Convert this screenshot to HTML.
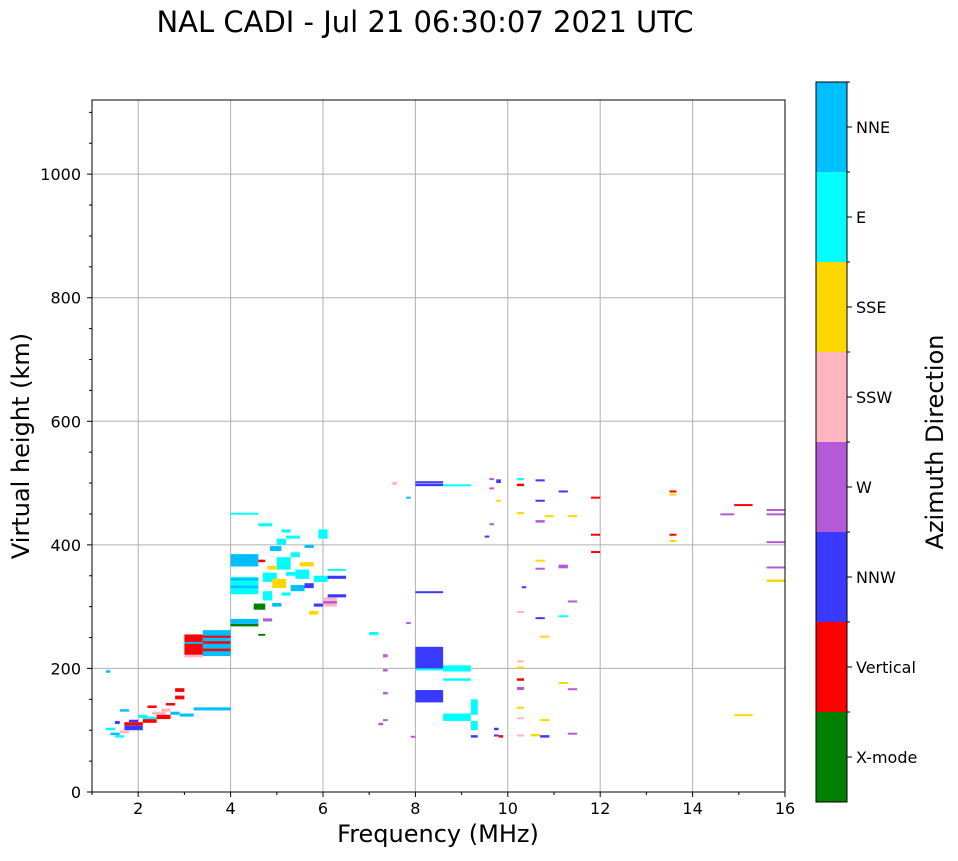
<!DOCTYPE html>
<html><head><meta charset="utf-8"><style>
body{margin:0;background:#fff;font-family:"DejaVu Sans",sans-serif}
svg text{font-family:"DejaVu Sans",sans-serif}
</style></head><body>
<svg id="s" width="958" height="857" xmlns="http://www.w3.org/2000/svg">
<text x="425" y="32" font-size="29" text-anchor="middle">NAL CADI - Jul 21 06:30:07 2021 UTC</text>
<g id="grid"></g>
<g id="marks"></g>
<rect x="92" y="100" width="693" height="692" fill="none" stroke="#000" stroke-width="1"/>
<g id="axes"></g>
<text x="438" y="842" font-size="24" text-anchor="middle">Frequency (MHz)</text>
<text transform="translate(29,446) rotate(-90)" font-size="24" text-anchor="middle">Virtual height (km)</text>
<g id="cbar"></g>
<text transform="translate(943,442) rotate(-90)" font-size="24" text-anchor="middle">Azimuth Direction</text>
</svg>
<script>
const dirNames=["X-mode","Vertical","NNW","W","SSW","SSE","E","NNE"];
const dirColors=["#008000","#ff0000","#3a3aff","#b55ad6","#ffb6c1","#ffd700","#00ffff","#00bfff"];
const xTicks=[2,4,6,8,10,12,14,16];
const yTicks=[0,200,400,600,800,1000];
const marks=[
[1.3,1.4,193,197,7],[1.3,1.5,100,104,6],[1.4,1.6,92,96,7],[1.5,1.7,88,92,6],[1.6,1.8,130,134,7],[1.5,1.6,110,115,2],
[1.7,2.1,100,108,2],[1.7,2.1,108,113,1],[1.8,2.0,113,117,2],[2.1,2.4,112,118,1],[2.1,2.4,118,122,6],[2.2,2.4,136,140,1],
[2.4,2.7,118,125,1],[2.5,2.7,130,135,4],[2.6,2.8,140,144,1],[2.7,2.9,125,130,7],[2.8,3.0,150,156,1],[2.8,3.0,162,168,1],
[2.9,3.2,122,127,7],[2.3,2.6,125,130,4],[2.0,2.2,120,125,6],[1.6,1.8,95,100,4],
[3.0,3.4,222,255,1],[3.4,4.0,220,262,7],[3.4,4.0,228,232,1],[3.4,4.0,240,244,1],[3.4,4.0,250,253,1],[3.0,3.4,240,243,7],[3.0,3.4,218,222,4],
[3.2,4.0,132,137,7],
[4.0,4.6,268,272,0],[4.0,4.6,272,280,7],[4.0,4.6,320,348,6],[4.0,4.6,330,334,7],[4.0,4.6,342,346,7],[4.0,4.6,365,385,7],[4.0,4.6,450,452,6],
[4.5,4.75,295,305,0],[4.6,4.75,253,256,0],[4.6,4.75,372,376,1],
[4.7,4.9,310,325,6],[4.7,5.0,340,355,6],[4.9,5.2,330,345,5],[5.0,5.3,360,380,6],[5.0,5.2,400,410,6],[5.2,5.5,410,415,6],
[5.3,5.6,325,335,7],[5.4,5.7,345,360,6],[5.5,5.8,365,372,5],[5.6,5.8,330,338,2],[5.7,5.9,287,293,5],[5.8,6.1,340,350,6],
[5.9,6.1,410,425,6],[6.0,6.3,300,315,4],[6.0,6.3,305,309,3],[6.1,6.5,345,350,2],[6.1,6.5,315,320,2],[6.1,6.5,358,361,6],
[4.6,4.9,430,435,6],[4.7,4.9,276,281,3],[4.85,5.1,390,398,7],[5.1,5.3,420,425,6],
[4.8,5.0,360,366,5],[5.2,5.4,350,356,6],[5.3,5.5,380,388,6],[5.6,5.8,395,400,7],[4.9,5.1,300,306,7],[5.1,5.3,318,323,6],[5.8,6.0,300,305,2],
[7.0,7.2,254,259,6],[7.3,7.4,218,223,3],[7.3,7.4,195,199,3],[7.3,7.4,158,162,3],[7.3,7.4,115,118,3],[7.2,7.3,108,112,3],[7.5,7.6,497,502,4],
[7.8,7.9,475,478,7],[7.9,8.0,88,91,3],[7.8,7.9,272,275,3],[8.0,8.6,495,499,2],[8.0,8.6,500,503,2],[8.6,9.2,495,498,6],
[8.0,8.6,322,325,2],[8.0,8.6,200,235,2],[8.0,8.6,145,165,2],[8.0,8.6,197,200,6],[8.6,9.2,195,205,6],[8.6,9.2,180,184,6],
[8.6,9.2,115,127,6],[9.2,9.35,100,115,6],[9.2,9.35,125,150,6],[9.2,9.35,88,92,2],[9.5,9.6,412,415,2],[9.6,9.7,505,508,3],
[9.6,9.7,490,493,3],[9.6,9.7,432,435,3],[9.75,9.85,500,506,2],[9.75,9.85,470,473,5],[9.7,9.8,100,104,2],[9.7,9.8,90,93,2],[9.8,9.9,88,92,1],
[10.2,10.35,505,508,6],[10.2,10.35,495,499,1],[10.2,10.35,450,453,5],[10.2,10.35,290,293,4],[10.2,10.35,210,213,4],[10.2,10.35,200,203,5],
[10.2,10.35,180,184,1],[10.2,10.35,165,170,3],[10.2,10.35,135,138,5],[10.2,10.35,118,121,4],[10.2,10.35,90,93,4],[10.3,10.4,330,333,2],
[10.5,10.7,90,94,5],[10.6,10.8,503,506,2],[10.6,10.8,470,473,2],[10.6,10.8,436,440,3],[10.6,10.8,373,376,5],[10.6,10.8,360,363,3],
[10.6,10.8,280,283,2],[10.7,10.9,250,253,5],[10.7,10.9,115,118,5],[10.7,10.9,88,92,2],[10.8,11.0,445,448,5],[11.1,11.3,485,488,2],
[11.1,11.3,362,368,3],[11.1,11.3,283,286,6],[11.1,11.3,175,178,5],[11.3,11.5,445,448,5],[11.3,11.5,308,310,3],[11.3,11.5,165,168,3],
[11.3,11.5,93,96,3],[11.8,12.0,475,478,1],[11.8,12.0,415,418,1],[11.8,12.0,387,390,1],[13.5,13.65,485,488,1],[13.5,13.65,480,483,5],
[13.5,13.65,415,418,1],[13.5,13.65,405,408,5],[14.6,14.9,448,451,3],[14.9,15.3,463,466,1],[14.9,15.3,123,126,5],[15.6,16,455,458,3],
[15.6,16,448,451,3],[15.6,16,403,406,3],[15.6,16,362,365,3],[15.6,16,340,344,5]
];
const NS="http://www.w3.org/2000/svg";
const X0=92,X1=785,Y0=792,Y1=100,F0=1,F1=16,H0=0,H1=1120;
const xs=f=>X0+(f-F0)/(F1-F0)*(X1-X0);
const ys=h=>Y0-(h-H0)/(H1-H0)*(Y0-Y1);
function el(t,a,p){const e=document.createElementNS(NS,t);for(const k in a)e.setAttribute(k,a[k]);document.getElementById(p).appendChild(e);return e;}
xTicks.forEach(v=>{const x=xs(v);
 const g=el('line',{x1:x,x2:x,y1:Y1,y2:Y0,stroke:'#b0b0b0','stroke-width':1},'grid');
 
 
 const t=el('line',{x1:x,x2:x,y1:Y0,y2:Y0+5,stroke:'#000'},'axes');
 
 
 const l=el('text',{x:x,y:Y0+22,'font-size':16,'text-anchor':'middle'},'axes');l.textContent=v;
 
 
});
for(let v=1;v<16;v+=2){const x=xs(v);const m=el('line',{x1:x,x2:x,y1:Y0,y2:Y0+3,stroke:'#000'},'axes');
 
 }
yTicks.forEach(v=>{const y=ys(v);
 const g=el('line',{x1:X0,x2:X1,y1:y,y2:y,stroke:'#b0b0b0','stroke-width':1},'grid');
 
 
 const t=el('line',{x1:X0-5,x2:X0,y1:y,y2:y,stroke:'#000'},'axes');
 
 
 const l=el('text',{x:X0-11,y:y+6,'font-size':16,'text-anchor':'end'},'axes');l.textContent=v;
 
 
});
for(let v=50;v<1120;v+=50){if(v%200==0)continue;const y=ys(v);const m=el('line',{x1:X0-3,x2:X0,y1:y,y2:y,stroke:'#000'},'axes');
 
 }
marks.forEach(m=>{const r=el('rect',{x:xs(m[0]),y:ys(m[3]),width:xs(m[1])-xs(m[0]),height:Math.max(2,ys(m[2])-ys(m[3])),fill:dirColors[m[4]]},'marks');
 
 });
const CB0=82,CBH=720/8;
dirNames.forEach((n,i)=>{const y=CB0+(7-i)*CBH;
 const r=el('rect',{x:816,y:y,width:31,height:CBH,fill:dirColors[i]},'cbar');
 
 
 const t=el('line',{x1:847,x2:852,y1:y+CBH/2,y2:y+CBH/2,stroke:'#000'},'cbar');
 
 
 const t2=el('line',{x1:847,x2:850,y1:y,y2:y,stroke:'#000'},'cbar');
 
 
 const l=el('text',{x:856,y:y+CBH/2+6,'font-size':16},'cbar');l.textContent=n;
 
 
});
const fr=el('rect',{x:816,y:CB0,width:31,height:720,fill:'none',stroke:'#000'},'cbar');


</script>
</body></html>
